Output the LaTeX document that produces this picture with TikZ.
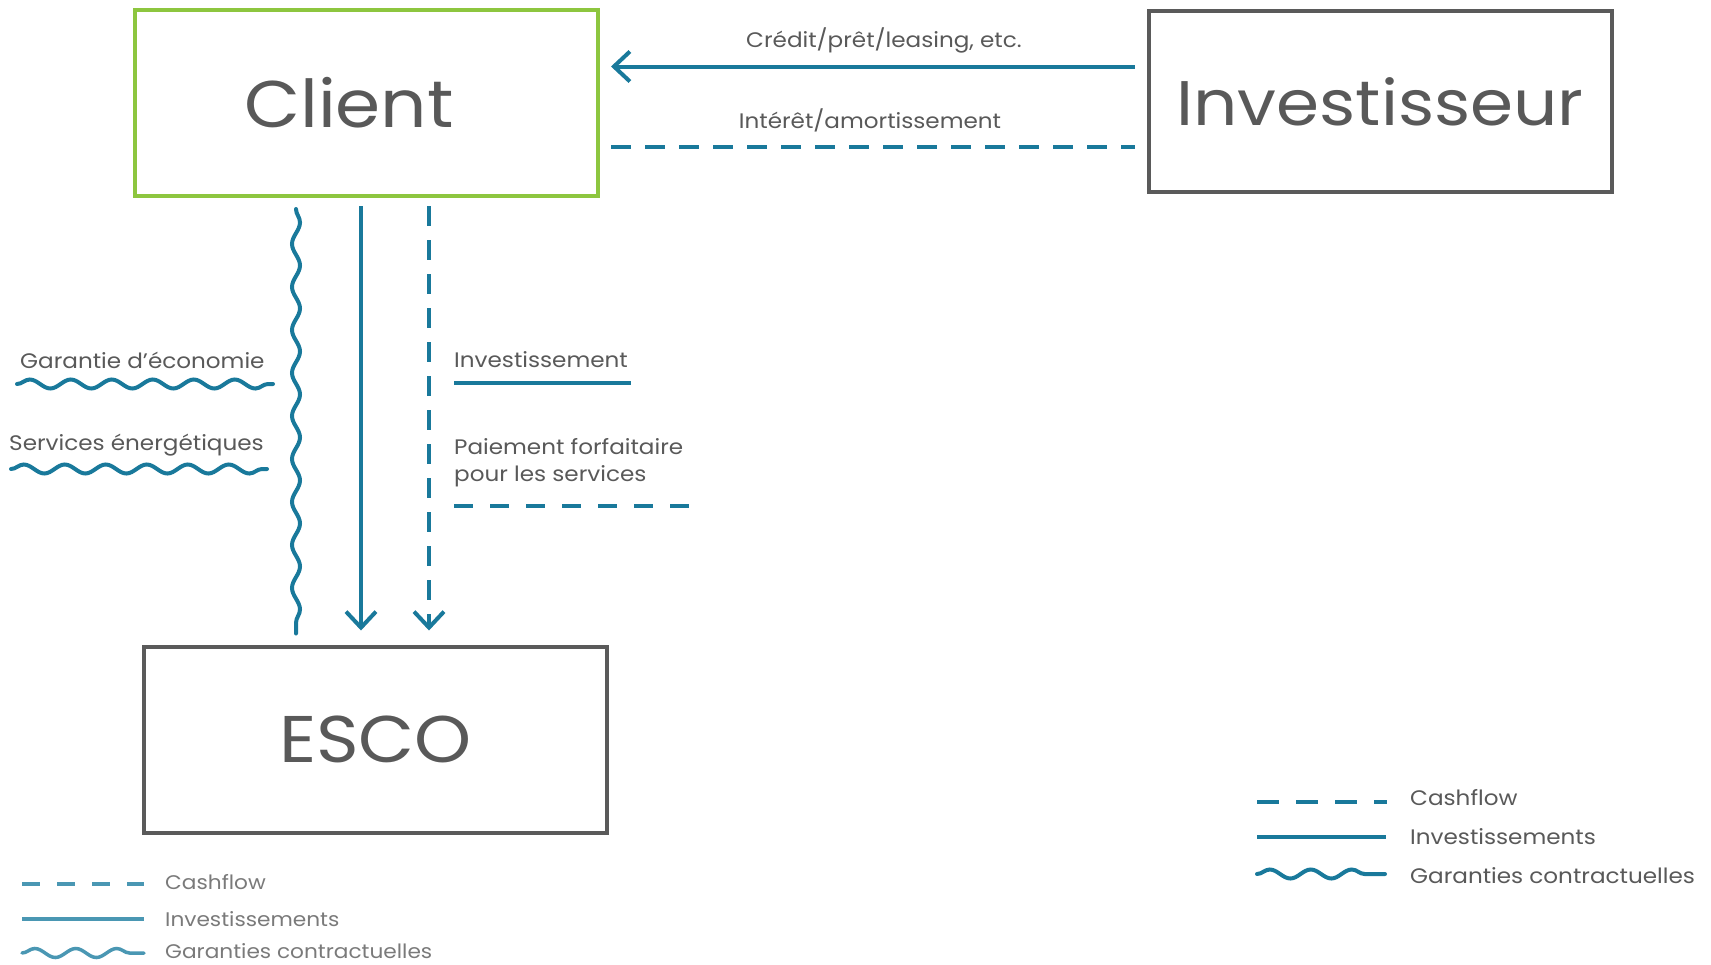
\documentclass[tikz,border=0pt]{standalone}
\usepackage{fontspec}
\setmainfont{Poppins}[FakeStretch=1.1]
\usetikzlibrary{arrows.meta,decorations.pathmorphing,calc}
\definecolor{flowblue}{HTML}{19799B}
\definecolor{boxgray}{HTML}{5A5A5A}
\definecolor{txtgray}{HTML}{595959}
\definecolor{clientgreen}{HTML}{8DC63F}
\definecolor{fadeblue}{HTML}{4A97B3}
\definecolor{fadegray}{HTML}{7A7A7A}
\tikzset{
  box/.style={draw=boxgray, line width=4pt, minimum width=463pt, minimum height=186pt, inner sep=0pt, text=txtgray, font=\fontsize{66}{70}\selectfont},
  lbl/.style={text=txtgray, inner sep=0pt, font=\fontsize{21}{27}\selectfont},
  leglbl/.style={lbl, anchor=west},
  fadelbl/.style={leglbl, text=fadegray, font=\fontsize{19.7}{24}\selectfont},
  inv/.style={draw=flowblue, line width=4pt},
  cash/.style={draw=flowblue, line width=4pt, dash pattern=on 20pt off 14pt},
  guar/.style={draw=flowblue, line width=4pt, line cap=round, decorate, decoration={snake, amplitude=4.5pt, segment length=41pt}},
  vguar/.style={draw=flowblue, line width=4pt, line cap=round, decorate, decoration={snake, amplitude=4pt, segment length=43pt}},
  tip/.style={-{Straight Barb[length=16pt,width=30pt]}}
}
\begin{document}
\begin{tikzpicture}[x=1pt,y=-1pt]
\useasboundingbox (0,0) rectangle (1711,964);
% boxes
\node[box, draw=clientgreen] (client) at (366.5,103) {Client\kern35pt};
\node[box, minimum height=181pt, font=\fontsize{63}{68}\selectfont] (inv) at (1380,101.5) {Investisseur};
\node[box] (esco) at (375.5,739.5) {ESCO};
% top connectors
\draw[inv, tip, shorten >=11pt] ([xshift=-12pt,yshift=35pt]inv.west) -- ([yshift=35pt]inv.west -| client.east);
\draw[cash, shorten <=11pt, shorten >=12pt] ([yshift=-43.5pt]client.east) -- ([yshift=-43.5pt]client.east -| inv.west);
\node[lbl] (lcredit) at (884,40) {Crédit/prêt/leasing, etc.};
\node[lbl] (linteret) at (870,120) {Intérêt/amortissement};
% vertical connectors
\draw[vguar] ($(client.south)+(-70.5,11)$) -- ($(client.south |- esco.north)+(-70.5,-11)$);
\draw[inv, tip, shorten <=8pt, shorten >=14pt] ([xshift=-5.5pt]client.south) -- ([xshift=-5.5pt]client.south |- esco.north);
\draw[cash, tip, shorten <=8pt, shorten >=14pt] ([xshift=62.5pt]client.south) -- ([xshift=62.5pt]client.south |- esco.north);
% side labels
\node[lbl, anchor=west] (lgar) at (20,360) {Garantie d’économie};
\draw[guar] (17,384) -- (273,384);
\node[lbl, anchor=west] (lserv) at (9,445) {Services énergétiques};
\draw[guar] (11,469) -- (267,469);
\node[lbl, anchor=west] (linvest) at (454,360) {Investissement};
\draw[inv] (454,383) -- (631,383);
\node[lbl, anchor=west, align=left] (lpaie) at (454,463) {Paiement forfaitaire\\pour les services};
\draw[cash, dash pattern=on 19pt off 17pt] (454,506) -- (690,506);
% right legend
\draw[cash, dash pattern=on 22pt off 17pt] (1257,802) -- (1387,802);
\node[leglbl] (rl1) at (1410,798) {Cashflow};
\draw[inv] (1257,837) -- (1386,837);
\node[leglbl] (rl2) at (1410,837) {Investissements};
\draw[guar] (1257,874) -- (1385,874);
\node[leglbl] (rl3) at (1410,876) {Garanties contractuelles};
% left legend (faded)
\draw[cash, draw=fadeblue, line width=3.5pt, dash pattern=on 18pt off 17pt] (22,884) -- (144,884);
\node[fadelbl] (ll1) at (165,882) {Cashflow};
\draw[inv, draw=fadeblue, line width=3.5pt] (22,919) -- (144,919);
\node[fadelbl] (ll2) at (165,919) {Investissements};
\draw[guar, draw=fadeblue, line width=3.5pt] (22,953) -- (144,953);
\node[fadelbl] (ll3) at (165,951) {Garanties contractuelles};
\end{tikzpicture}
\end{document}
